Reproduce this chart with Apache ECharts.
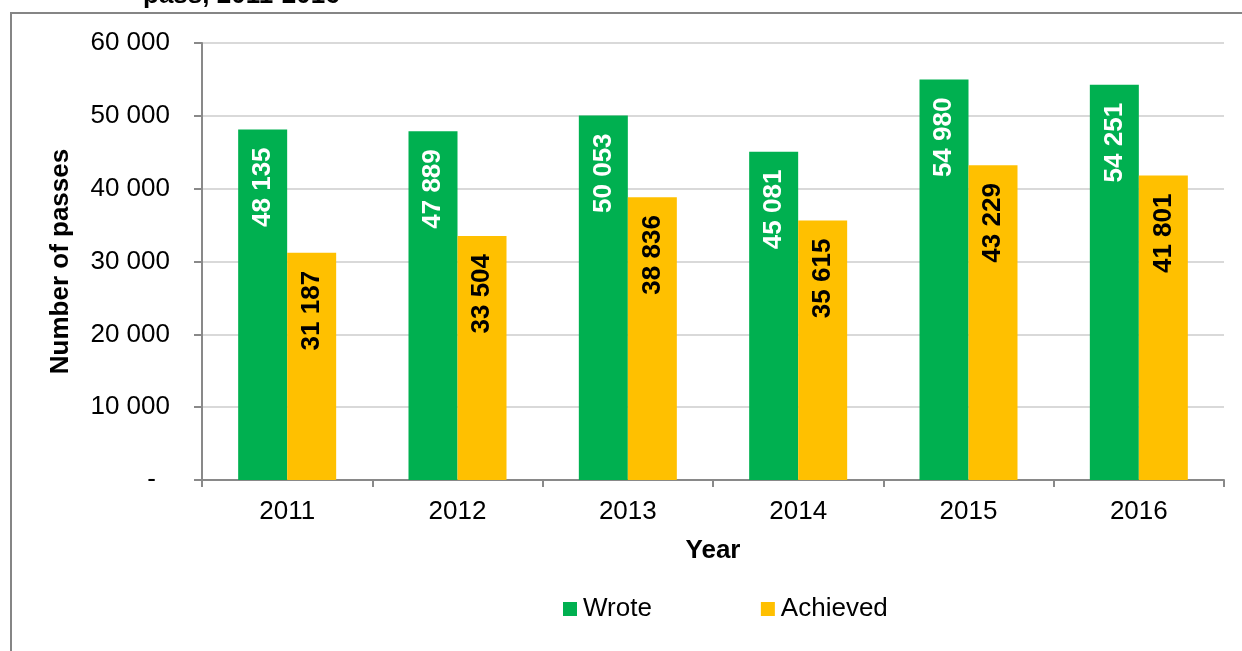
<!DOCTYPE html>
<html>
<head>
<meta charset="utf-8">
<script src="https://cdn.jsdelivr.net/npm/echarts@6/dist/echarts.min.js"></script>
<style>
  html, body { margin: 0; padding: 0; background: #ffffff; }
  #chart { width: 1242px; height: 651px; }
</style>
</head>
<body>
<div id="chart"></div>
<script>
// Exam passes per year
const years = ['2011', '2012', '2013', '2014', '2015', '2016'];
const wrote = [48135, 47889, 50053, 45081, 54980, 54251];
const achieved = [31187, 33504, 38836, 35615, 43229, 41801];
const seriesNames = ['Wrote', 'Achieved'];
const yTicks = [0, 10000, 20000, 30000, 40000, 50000, 60000];

const FONT = '"Liberation Sans", Arial, sans-serif';
const AXIS_GREY = '#898989';

// Thousands separated by a space, e.g. 48 135
function spaced(v) {
  return String(v).replace(/\B(?=(\d{3})+(?!\d))/g, ' ');
}

const chart = echarts.init(document.getElementById('chart'), null, { renderer: 'canvas' });

const barLabel = (color) => ({
  show: true,
  position: 'insideTop',
  rotate: 90,
  align: 'right',
  verticalAlign: 'middle',
  distance: 18,
  color: color,
  fontFamily: FONT,
  fontSize: 26,
  fontWeight: 'bold',
  formatter: (p) => spaced(p.value)
});

chart.setOption({
  animation: false,
  backgroundColor: '#ffffff',
  textStyle: { fontFamily: FONT },
  graphic: [
    {
      type: 'rect',
      silent: true,
      shape: { x: 11, y: 13, width: 1300, height: 700 },
      style: { fill: 'none', stroke: '#858585', lineWidth: 2 }
    },
    {
      type: 'text',
      silent: true,
      left: 143,
      top: -17,
      style: {
        text: 'pass, 2011-2016',
        fill: '#000000',
        font: 'bold 26px ' + FONT
      }
    }
  ],
  grid: { left: 202, right: 18, top: 43, bottom: 171, containLabel: false },
  legend: {
    data: seriesNames,
    left: 563,
    top: 596,
    padding: 0,
    itemWidth: 14,
    itemHeight: 14,
    itemGap: 109,
    icon: 'rect',
    textStyle: { fontFamily: FONT, fontSize: 26, color: '#000000', padding: [0, 0, 0, 1] }
  },
  xAxis: {
    type: 'category',
    data: years,
    name: 'Year',
    nameLocation: 'middle',
    nameGap: 58,
    nameTextStyle: { fontFamily: FONT, fontSize: 26, fontWeight: 'bold', color: '#000000' },
    axisLine: { show: true, lineStyle: { color: AXIS_GREY, width: 2 } },
    axisTick: { show: true, alignWithLabel: false, length: 7, lineStyle: { color: AXIS_GREY, width: 2 } },
    axisLabel: { fontFamily: FONT, fontSize: 26, color: '#000000', margin: 19 }
  },
  yAxis: {
    type: 'value',
    min: yTicks[0],
    max: yTicks[yTicks.length - 1],
    interval: yTicks[1] - yTicks[0],
    name: 'Number of passes',
    nameLocation: 'middle',
    nameGap: 128,
    nameTextStyle: { fontFamily: FONT, fontSize: 26, fontWeight: 'bold', color: '#000000' },
    axisLine: { show: true, lineStyle: { color: AXIS_GREY, width: 2 } },
    axisTick: { show: true, length: 8, lineStyle: { color: AXIS_GREY, width: 2 } },
    splitLine: { show: true, lineStyle: { color: '#d9d9d9', width: 2 } },
    axisLabel: {
      fontFamily: FONT,
      fontSize: 26,
      color: '#000000',
      margin: 32,
      formatter: (v) => (v === 0 ? '{dash|-}' : spaced(v)),
      rich: {
        dash: { fontFamily: FONT, fontSize: 26, color: '#000000', padding: [0, 14, 0, 0] }
      }
    }
  },
  series: [
    {
      name: seriesNames[0],
      type: 'bar',
      data: wrote,
      barWidth: 49,
      barGap: '0%',
      itemStyle: { color: '#00B050' },
      label: barLabel('#ffffff')
    },
    {
      name: seriesNames[1],
      type: 'bar',
      data: achieved,
      barWidth: 49,
      barGap: '0%',
      itemStyle: { color: '#FFC000' },
      label: barLabel('#000000')
    }
  ]
});
</script>
</body>
</html>
